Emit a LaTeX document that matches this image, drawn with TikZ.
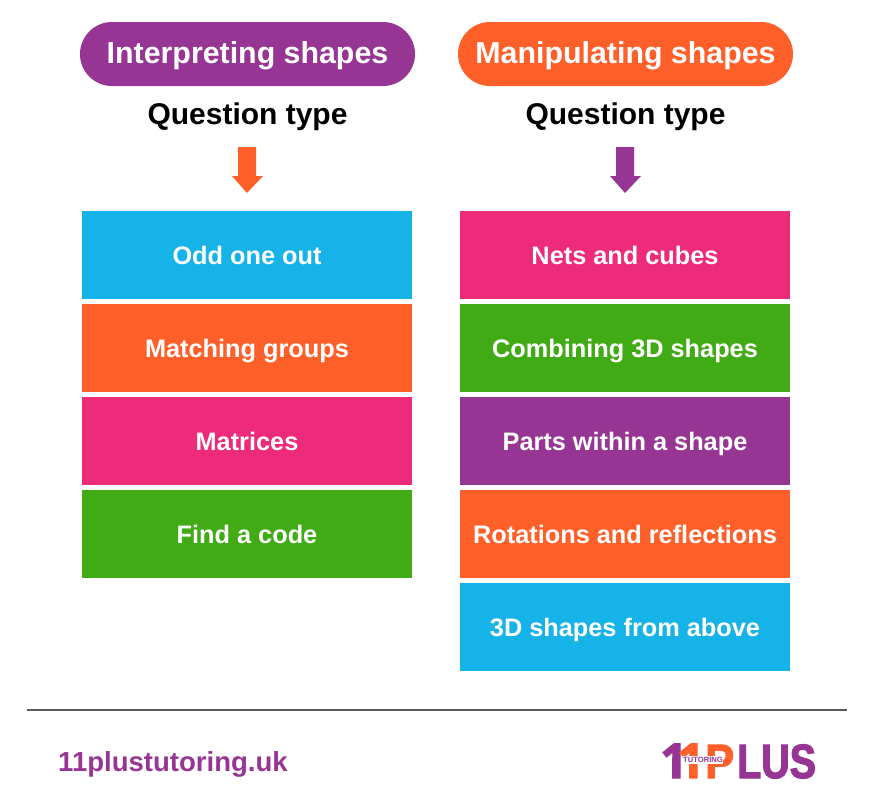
\documentclass[tikz,border=0pt]{standalone}
\usepackage{fontspec}
\setmainfont{Liberation Sans}
\newfontfamily\logofont[FakeBold=2.5,FakeStretch=.82]{Liberation Sans}
\newfontfamily\logoonefont[FakeBold=2.5]{Open Sans}
\newfontfamily\logopfont[FakeBold=2.5,FakeStretch=.9]{Liberation Sans}
\usetikzlibrary{shapes.misc}
\definecolor{viola}{HTML}{973594}
\definecolor{arancio}{HTML}{FF5F29}
\definecolor{azzurro}{HTML}{16B3E8}
\definecolor{rosa}{HTML}{EE2A7B}
\definecolor{verde}{HTML}{41AB16}
\tikzset{
  pill/.style={rounded rectangle,minimum width=10.05cm,minimum height=1.92cm,inner sep=0pt,text=white,text height=15.4pt,text depth=0pt,font=\bfseries\fontsize{25.9}{30}\selectfont},
  heading/.style={inner sep=0pt,text=black,text height=17pt,text depth=0pt,font=\bfseries\fontsize{25.6}{30}\selectfont},
  typebox/.style={minimum width=9.9cm,minimum height=2.64cm,inner sep=0pt,text=white,text height=17pt,text depth=0pt,font=\bfseries\fontsize{21.6}{25}\selectfont},
  logotext/.style={inner sep=0pt,anchor=base west,font=\logofont\bfseries\fontsize{41}{44}\selectfont},
  logoone/.style={inner sep=0pt,anchor=base west,font=\logoonefont\bfseries\fontsize{41}{44}\selectfont},
  logop/.style={inner sep=0pt,anchor=base west,font=\logopfont\bfseries\fontsize{41}{44}\selectfont}
}
\begin{document}
\begin{tikzpicture}[x=0.03cm,y=-0.03cm]
        \useasboundingbox (0,0) rectangle (873,800);
        %titles
        \node[pill,fill=viola] (interpreting) at (247.5,54) {Interpreting shapes};
        \node[pill,fill=arancio] (manipulating) at (625.5,54) {Manipulating shapes};
        \node[heading] (questionleft) at (247.5,115) {Question type};
        \node[heading] (questionright) at (625.5,115) {Question type};
        %block arrows
        \fill[arancio] (238,147)--++ (18,0)--++ (0,29)--++ (7,0)--++ (-16,17)--++ (-15,-17)--++ (6,0)--cycle;
        \fill[viola] (616,147)--++ (18,0)--++ (0,29)--++ (7,0)--++ (-16,17)--++ (-15,-17)--++ (6,0)--cycle;
        %left column
        \node[typebox,fill=azzurro] (oddone) at (247,254.5) {Odd one out};
        \node[typebox,fill=arancio] (matching) at (247,348) {Matching groups};
        \node[typebox,fill=rosa] (matrices) at (247,441) {Matrices};
        \node[typebox,fill=verde] (findcode) at (247,534) {Find a code};
        %right column
        \node[typebox,fill=rosa] (nets) at (625,255) {Nets and cubes};
        \node[typebox,fill=verde] (combining) at (625,348) {Combining 3D shapes};
        \node[typebox,fill=viola] (parts) at (625,441) {Parts within a shape};
        \node[typebox,fill=arancio] (rotations) at (625,534) {Rotations and reflections};
        \node[typebox,fill=azzurro] (above) at (625,627) {3D shapes from above};
        %footer
        \draw[line width=1.5pt,black!65] (27,710)-- (847,710);
        \node[inner sep=0pt,anchor=base west,text=viola,font=\bfseries\fontsize{23.5}{28}\selectfont] (website) at (58,771) {11plustutoring.uk};
        %logo
        \node[logoone,text=viola] (logofirst) at (660,778) {1};
        \node[logoone,text=arancio] (logosecond) at (677,778) {1};
        \node[logop,text=arancio] (logoletter) at (705,778) {P};
        \node[logotext,text=viola] (logolus) at (737,778) {LUS};
        \fill[white] (683,756) rectangle (723,764);
        \node[inner sep=0pt,text=viola,font=\bfseries\fontsize{6.5}{7}\selectfont] (logotutoring) at (703,760) {TUTORING};
\end{tikzpicture}
\end{document}
